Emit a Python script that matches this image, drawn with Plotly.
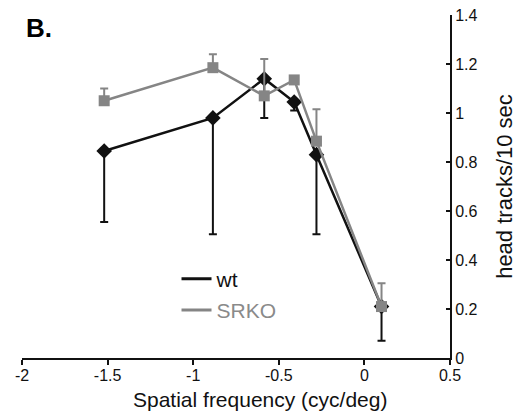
import plotly.graph_objects as go

# Data
x_wt = [-1.52, -0.885, -0.585, -0.41, -0.28, 0.10]
y_wt = [0.845, 0.98, 1.14, 1.045, 0.83, 0.21]
err_wt_plus = [0, 0, 0, 0, 0, 0]
err_wt_minus = [0.29, 0.475, 0.16, 0.035, 0.325, 0.14]

x_srko = [-1.52, -0.885, -0.585, -0.41, -0.28, 0.10]
y_srko = [1.05, 1.185, 1.07, 1.135, 0.885, 0.21]
err_srko_plus = [0.05, 0.055, 0.15, 0, 0.13, 0.095]
err_srko_minus = [0, 0, 0, 0, 0, 0]

x_ticks = [-2, -1.5, -1, -0.5, 0, 0.5]
x_ticktext = ["-2", "-1.5", "-1", "-0.5", "0", "0.5"]
y_ticks = [0, 0.2, 0.4, 0.6, 0.8, 1.0, 1.2, 1.4]
y_ticktext = ["0", "0.2", "0.4", "0.6", "0.8", "1", "1.2", "1.4"]

BLACK = "#111111"
GRAY = "#858585"
FONT = "Liberation Sans, Arial, sans-serif"

fig = go.Figure()

fig.add_trace(go.Scatter(
    x=x_wt, y=y_wt, mode="lines+markers", showlegend=False,
    line=dict(color=BLACK, width=2.5),
    marker=dict(symbol="diamond", size=12, color=BLACK),
    error_y=dict(type="data", symmetric=False, array=err_wt_plus,
                 arrayminus=err_wt_minus, color=BLACK, thickness=2, width=4),
))
fig.add_trace(go.Scatter(
    x=x_srko, y=y_srko, mode="lines+markers", showlegend=False,
    line=dict(color=GRAY, width=2.5),
    marker=dict(symbol="square", size=11, color=GRAY),
    error_y=dict(type="data", symmetric=False, array=err_srko_plus,
                 arrayminus=err_srko_minus, color=GRAY, thickness=2, width=4),
))

# legend entries (line only)
fig.add_trace(go.Scatter(x=[None], y=[None], mode="lines", name="wt",
                         legendgroup="a", line=dict(color=BLACK, width=3)))
fig.add_trace(go.Scatter(x=[None], y=[None], mode="lines",
                         name="<span style='color:#8a8a8a'>SRKO</span>",
                         legendgroup="b", line=dict(color=GRAY, width=3)))

fig.update_layout(
    width=517, height=412,
    margin=dict(l=22, r=67, t=15, b=54, autoexpand=False),
    paper_bgcolor="white", plot_bgcolor="white",
    font=dict(family=FONT, size=16, color=BLACK),
    legend=dict(x=0.361, y=0.29, xanchor="left", yanchor="top",
                bgcolor="rgba(0,0,0,0)", font=dict(size=21),
                traceorder="grouped", tracegroupgap=1),
    xaxis=dict(range=[-2, 0.5], tickvals=x_ticks, ticktext=x_ticktext,
               automargin=False, ticklabeloverflow="allow",
               showgrid=False, zeroline=False, showline=True,
               linecolor=BLACK, linewidth=2, ticks="outside", ticklen=5,
               tickwidth=2, tickcolor=BLACK, ticklabelstandoff=-3,
               tickfont=dict(size=16, color=BLACK)),
    yaxis=dict(range=[0, 1.4], side="right", tickvals=y_ticks,
               automargin=True, ticklabeloverflow="allow",
               ticktext=y_ticktext, showgrid=False, zeroline=False,
               showline=True, linecolor=BLACK, linewidth=2,
               ticks="inside", ticklen=4, tickwidth=2, tickcolor=BLACK,
               tickfont=dict(size=16, color=BLACK),
               title=dict(text="head tracks/10 sec",
                          font=dict(size=22, color=BLACK), standoff=24)),
    annotations=[
        dict(text="<b>B.</b>", xref="paper", yref="paper",
             x=0.005, y=0.962, xanchor="left", yanchor="middle",
             showarrow=False, font=dict(size=26, color="black")),
        dict(text="Spatial frequency (cyc/deg)", xref="paper", yref="paper",
             x=0.556, y=-0.12, xanchor="center", yanchor="middle",
             showarrow=False, font=dict(size=21, color=BLACK)),
    ],
)

# remove the default 8px page margin so the figure fills the window exactly
fig.write_html("out.html", config={"displayModeBar": False},
               post_script="document.body.style.margin='0';")
